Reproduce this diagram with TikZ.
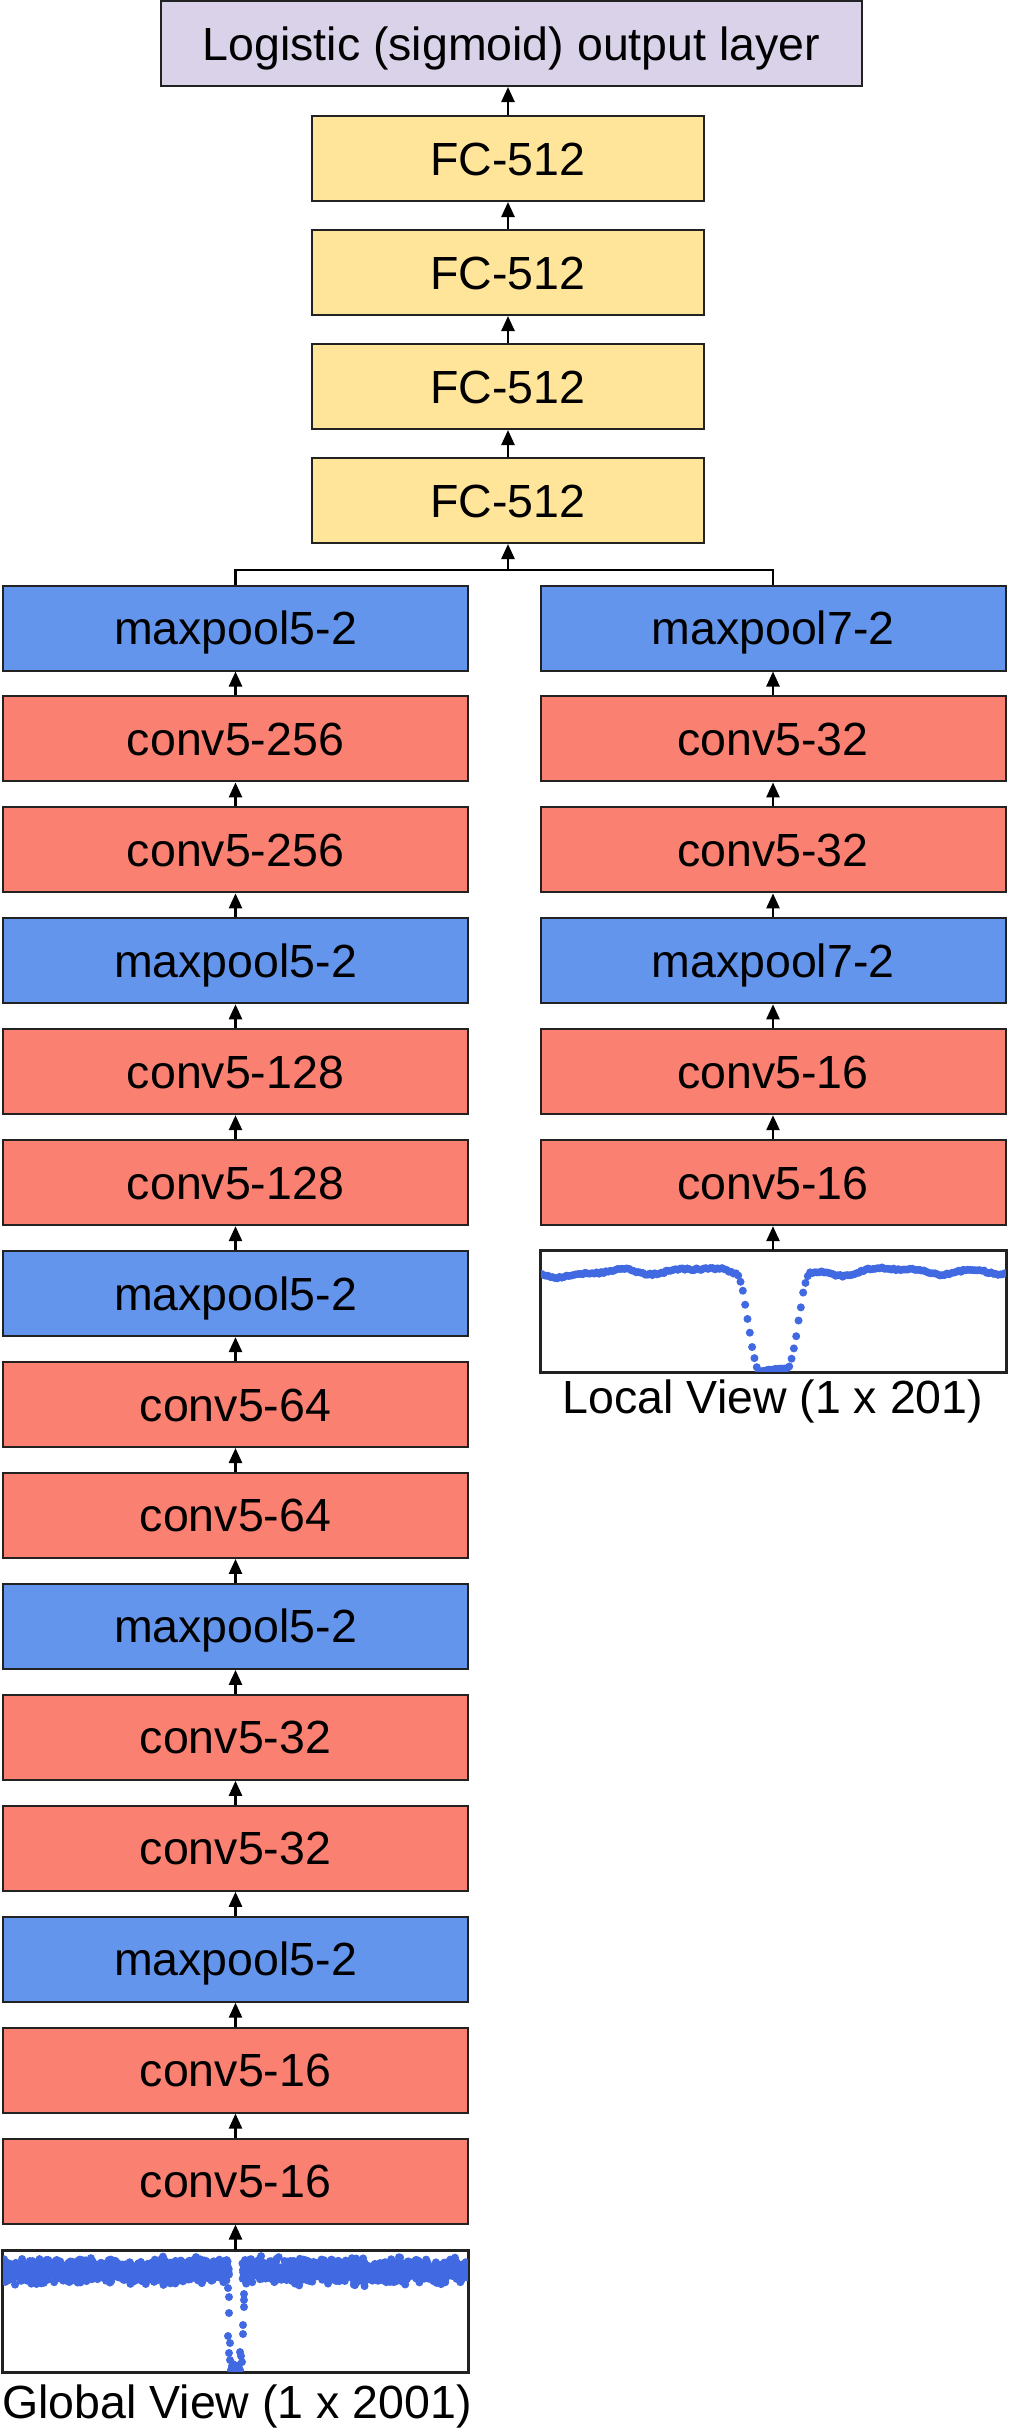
\documentclass[tikz,border=0pt]{standalone}
\usepackage{fontspec}
\setmainfont{Liberation Sans}
\usetikzlibrary{arrows.meta}
\definecolor{toplav}{HTML}{D9D2E9}
\definecolor{fcyel}{HTML}{FFE599}
\definecolor{poolblue}{HTML}{6495ED}
\definecolor{convred}{HTML}{FA8072}
\definecolor{dotblue}{HTML}{4169E1}
\definecolor{edge}{HTML}{222222}
\begin{document}
\begin{tikzpicture}[x=1pt,y=-1pt,
 layer/.style={draw=edge, line width=2pt, minimum height=85pt, inner sep=0pt,
   text height=33pt, text depth=0pt, font=\fontsize{46.5pt}{56pt}\selectfont},
 outbox/.style={layer, fill=toplav, minimum width=701pt},
 fcbox/.style={layer, fill=fcyel, minimum width=392pt},
 poolbox/.style={layer, fill=poolblue, minimum width=465pt},
 convbox/.style={layer, fill=convred, minimum width=465pt},
 plotbox/.style={draw=edge, line width=2pt, fill=white, minimum width=465pt, minimum height=121pt, inner sep=0pt},
 arr/.style={line width=2.5pt, -{Triangle[length=15pt,width=13pt]}},
 conn/.style={line width=2.5pt},
 viewlabel/.style={font=\fontsize{46.5pt}{56pt}\selectfont, anchor=base, inner sep=0pt},
 datadot/.style={fill=dotblue}
]
\useasboundingbox (0,0) rectangle (1009,2429);

% output and FC layers
\node[outbox] (out) at (511.5,43.5) {Logistic (sigmoid) output layer};
\node[fcbox] (fc1) at (508,158.5) {FC-512};
\node[fcbox] (fc2) at (508,272.5) {FC-512};
\node[fcbox] (fc3) at (508,386.5) {FC-512};
\node[fcbox] (fc4) at (508,500.5) {FC-512};
\draw[arr] (fc1.north) -- (fc1.north |- out.south);
\draw[arr] (fc2.north) -- (fc1.south);
\draw[arr] (fc3.north) -- (fc2.south);
\draw[arr] (fc4.north) -- (fc3.south);

% global branch
\foreach \lbl/\sty [count=\k from 0] in {maxpool5-2/poolbox, conv5-256/convbox, conv5-256/convbox,
  maxpool5-2/poolbox, conv5-128/convbox, conv5-128/convbox, maxpool5-2/poolbox,
  conv5-64/convbox, conv5-64/convbox, maxpool5-2/poolbox, conv5-32/convbox, conv5-32/convbox,
  maxpool5-2/poolbox, conv5-16/convbox, conv5-16/convbox}
  {\node[\sty] (L\k) at (235.5,628+110.93*\k) {\lbl};}
\foreach \k in {0,...,13}{\pgfmathtruncatemacro\j{\k+1}\draw[arr] (L\j.north) -- (L\k.south);}

% local branch
\foreach \lbl/\sty [count=\k from 0] in {maxpool7-2/poolbox, conv5-32/convbox, conv5-32/convbox,
  maxpool7-2/poolbox, conv5-16/convbox, conv5-16/convbox}
  {\node[\sty] (R\k) at (773,628+110.93*\k) {\lbl};}
\foreach \k in {0,...,4}{\pgfmathtruncatemacro\j{\k+1}\draw[arr] (R\j.north) -- (R\k.south);}

% junction
\coordinate (j) at (508,570);
\draw[conn] (L0.north) |- (j) -| (R0.north);
\draw[arr] (j) -- (j |- fc4.south);

% local view plot
\node[plotbox] (lplot) at (773,1311.5) {};
\pgfmathsetseed{7}
\begin{scope}
\clip (lplot.south west) rectangle (lplot.north east);
\foreach \i in {0,...,200}{
  \pgfmathsetmacro\xx{541+2.32*\i}
  \pgfmathsetmacro\dd{abs(\xx-773.5)}
  \pgfmathsetmacro\dep{ifthenelse(\dd<13,97,ifthenelse(\dd<37,97*(0.5+0.5*cos(7.5*(\dd-13))),0))}
  \pgfmathsetmacro\yy{1272+2.5*sin(\i*9)+2*sin(\i*3.7+50)+1.5*sin(\i*17+10)+1.0*rand+\dep}
  \fill[datadot] (\xx,\yy) circle[radius=4pt];
}
\end{scope}
\draw[draw=edge, line width=2pt] (lplot.south west) rectangle (lplot.north east);
\node[viewlabel] (llabel) at (773,1413) {Local View (1 x 201)};
\draw[arr] (lplot.north) -- (R5.south);

% global view plot
\node[plotbox] (gplot) at (235.5,2311.5) {};
\begin{scope}
\clip (gplot.south west) rectangle (gplot.north east);
\foreach \i in {0,...,972}{
  \pgfmathsetmacro\xx{3+0.2325*\i}
  \pgfmathsetmacro\yy{2271+5.5*(rand+rand+rand)}
  \fill[datadot] (\xx,\yy) circle[radius=4pt];
}
\foreach \i in {1030,...,2000}{
  \pgfmathsetmacro\xx{3+0.2325*\i}
  \pgfmathsetmacro\yy{2271+5.5*(rand+rand+rand)}
  \fill[datadot] (\xx,\yy) circle[radius=4pt];
}
\foreach \px/\py in {228/2288,229/2297,229/2313,228/2336,230/2343,229/2353,230/2360,232/2366,231/2370,
  245/2260,244/2294,244/2300,244/2307,243/2325,243/2334,240/2352,241/2356,239/2365,242/2362,
  236/2368,234/2370,238/2371,237/2366,233/2364,235/2372,240/2370}
  {\fill[datadot] (\px,\py) circle[radius=4pt];}
\end{scope}
\draw[draw=edge, line width=2pt] (gplot.south west) rectangle (gplot.north east);
\node[viewlabel] (glabel) at (237,2418) {Global View (1 x 2001)};
\draw[arr] (gplot.north) -- (L14.south);
\end{tikzpicture}
\end{document}
